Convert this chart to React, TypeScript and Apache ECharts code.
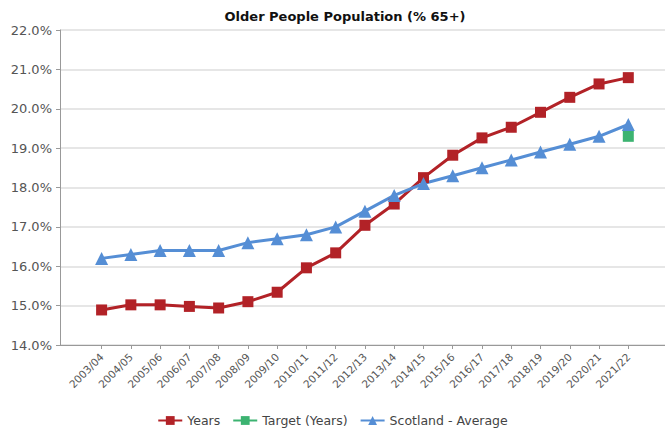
import React, { useEffect, useRef } from "react";
import * as echarts from "echarts";

const categories = [
  "2003/04", "2004/05", "2005/06", "2006/07", "2007/08", "2008/09", "2009/10",
  "2010/11", "2011/12", "2012/13", "2013/14", "2014/15", "2015/16", "2016/17",
  "2017/18", "2018/19", "2019/20", "2020/21", "2021/22",
];
const years = [
  14.89, 15.02, 15.02, 14.98, 14.94, 15.1, 15.34, 15.96, 16.34, 17.04, 17.58,
  18.25, 18.82, 19.26, 19.53, 19.91, 20.29, 20.63, 20.79,
];
const target = [
  null, null, null, null, null, null, null, null, null, null, null, null, null,
  null, null, null, null, null, 19.3,
];
const scotland = [
  16.2, 16.3, 16.4, 16.4, 16.4, 16.6, 16.7, 16.8, 17.0, 17.4, 17.8, 18.1, 18.3,
  18.5, 18.7, 18.9, 19.1, 19.3, 19.6,
];
const yMin = 14;
const yMax = 22;

const FONT = "DejaVu Sans";

export default function App() {
  const ref = useRef<HTMLDivElement>(null);
  useEffect(() => {
    if (!ref.current) return;
    const chart = echarts.init(ref.current, null, { renderer: "svg" });
    chart.setOption({
      animation: false,
      backgroundColor: "#ffffff",
      title: {
        text: "Older People Population (% 65+)",
        left: 340,
        textAlign: "center",
        top: 5,
        textStyle: { fontFamily: FONT, fontSize: 13, fontWeight: "bold", color: "#111" },
      },
      legend: {
        bottom: 2,
        left: "center",
        itemWidth: 24,
        itemHeight: 11,
        itemGap: 12,
        textStyle: { fontFamily: FONT, fontSize: 12.5, color: "#444" },
        data: ["Years", "Target (Years)", "Scotland - Average"],
      },
      grid: [
        { left: 60, right: 0, top: 30, bottom: 89 },
        { left: 101.6, right: 36.7, top: 30, bottom: 89 },
      ],
      xAxis: [
        {
          gridIndex: 0,
          type: "value",
          min: 0,
          max: 1,
          axisLine: { show: true, lineStyle: { color: "#999", width: 1 } },
          axisTick: { show: false },
          axisLabel: { show: false },
          splitLine: { show: false },
        },
        {
          gridIndex: 1,
          type: "category",
          data: categories,
          boundaryGap: false,
          axisLine: { show: false },
          axisTick: { show: true, length: 4, lineStyle: { color: "#999" } },
          axisLabel: {
            rotate: 45,
            interval: 0,
            margin: 10,
            fontFamily: FONT,
            fontSize: 10.5,
            color: "#555",
          },
          splitLine: { show: false },
        },
      ],
      yAxis: [
        {
          gridIndex: 0,
          type: "value",
          min: yMin,
          max: yMax,
          interval: 1,
          axisLine: { show: true, lineStyle: { color: "#999", width: 1 } },
          axisTick: { show: true, length: 4, lineStyle: { color: "#999" } },
          axisLabel: {
            formatter: (v: number) => v.toFixed(1) + "%",
            fontFamily: FONT,
            fontSize: 13,
            color: "#555",
            margin: 8,
          },
          splitLine: { show: true, lineStyle: { color: "#dedede", width: 1.5 } },
        },
        {
          gridIndex: 1,
          type: "value",
          min: yMin,
          max: yMax,
          interval: 1,
          axisLine: { show: false },
          axisTick: { show: false },
          axisLabel: { show: false },
          splitLine: { show: false },
        },
      ],
      series: [
        {
          name: "Years",
          type: "line",
          xAxisIndex: 1,
          yAxisIndex: 1,
          data: years,
          symbol: "rect",
          symbolSize: 11,
          itemStyle: { color: "#b22227" },
          lineStyle: { color: "#b22227", width: 3 },
        },
        {
          name: "Target (Years)",
          type: "line",
          xAxisIndex: 1,
          yAxisIndex: 1,
          data: target,
          symbol: "rect",
          symbolSize: 11,
          itemStyle: { color: "#3cb371" },
          lineStyle: { color: "#3cb371", width: 3 },
        },
        {
          name: "Scotland - Average",
          type: "line",
          xAxisIndex: 1,
          yAxisIndex: 1,
          data: scotland,
          symbol: "triangle",
          symbolSize: 13,
          itemStyle: { color: "#558ed5" },
          lineStyle: { color: "#558ed5", width: 3 },
        },
      ],
    });
    return () => chart.dispose();
  }, []);
  return (
    <div
      ref={ref}
      style={{ position: "fixed", left: 0, top: 0, width: 665, height: 434 }}
    />
  );
}
